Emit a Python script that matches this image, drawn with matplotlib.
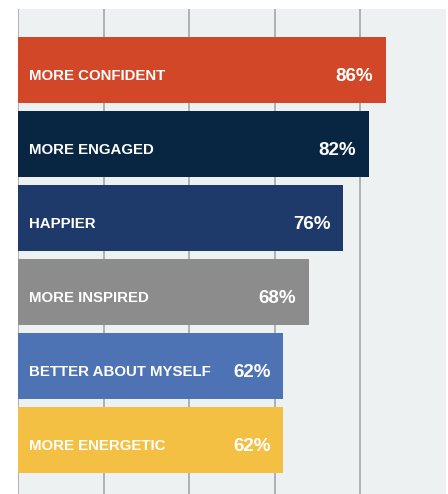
import matplotlib
matplotlib.use("Agg")
import matplotlib.pyplot as plt

# data
labels = ["MORE CONFIDENT", "MORE ENGAGED", "HAPPIER", "MORE INSPIRED",
          "BETTER ABOUT MYSELF", "MORE ENERGETIC"]
values = [86, 82, 76, 68, 62, 62]
colors = ["#d14727", "#082642", "#1e3a6a", "#8c8c8c", "#4e73b5", "#f4c044"]

plt.rcParams['font.family'] = ['Liberation Sans', 'DejaVu Sans']

fig = plt.figure(figsize=(4.48, 4.94), dpi=100)
ax = fig.add_axes([18 / 448, 0, 428 / 448, 485 / 494])
ax.set_facecolor("#edf1f2")

ypos = list(range(len(labels)))
ax.barh(ypos, values, height=0.89, color=colors, zorder=2)

# labels inside bars, sitting a little below the bar centre like the original
for y, lab, v in zip(ypos, labels, values):
    ax.text(2.6, y + 0.135, lab, color="white", fontsize=10.8, fontweight="bold",
            ha="left", va="baseline", zorder=3)
    ax.text(v - 3, y + 0.15, f"{v}%", color="white", fontsize=13.5, fontweight="bold",
            ha="right", va="baseline", zorder=3)

ax.set_xlim(0, 100)
ax.set_ylim(5.73, -0.82)
ax.set_xticks([0, 20, 40, 60, 80])
ax.grid(axis="x", color="#a3a7a9", linewidth=1.2, zorder=1)
ax.tick_params(left=False, bottom=False, labelleft=False, labelbottom=False)
for s in ax.spines.values():
    s.set_visible(False)

fig.savefig("out.png", dpi=100)
